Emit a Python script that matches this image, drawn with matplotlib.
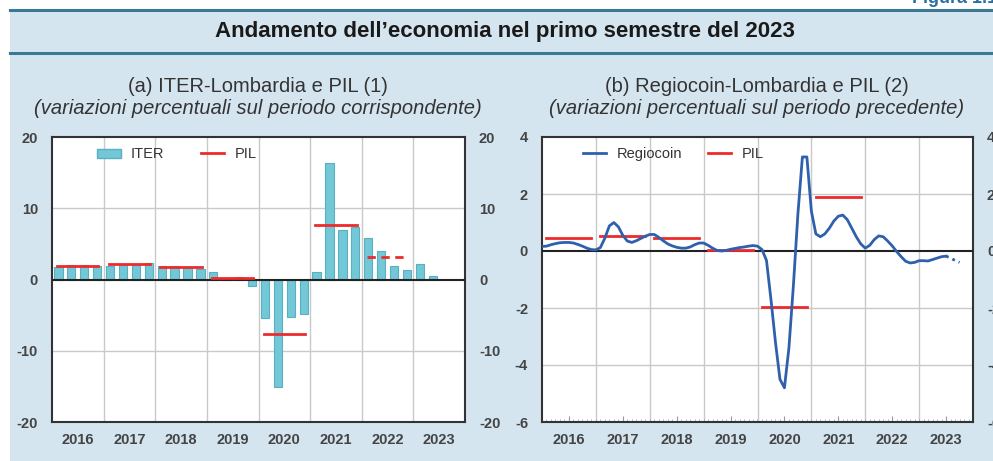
import matplotlib
matplotlib.use("Agg")
import matplotlib.pyplot as plt
from matplotlib.patches import Rectangle, Patch
from matplotlib.lines import Line2D
import numpy as np

plt.rcParams["font.family"] = ["Liberation Sans", "DejaVu Sans"]
plt.rcParams["axes.unicode_minus"] = False

# ---- data ----
years = [2016, 2017, 2018, 2019, 2020, 2021, 2022, 2023]

# ITER-Lombardia, quarterly, 2016Q1 - 2023Q2
iter_vals = [1.8, 2.0, 2.1, 1.9,
             1.9, 2.0, 2.0, 2.3,
             1.9, 1.9, 1.6, 1.5,
             1.1, 0.2, 0.4, -0.9,
             -5.4, -15.1, -5.2, -4.9,
             1.1, 16.3, 7.0, 7.4,
             5.8, 4.0, 1.9, 1.3,
             2.2, 0.5]

# PIL annual (panel a); 2022 is provisional (dashed)
pil_a_years = [2016, 2017, 2018, 2019, 2020, 2021, 2022]
pil_a_vals = [1.9, 2.2, 1.8, 0.2, -7.6, 7.7, 3.2]

# Regiocoin-Lombardia, monthly from Jan 2016
regio_vals = [0.16, 0.17, 0.22, 0.26, 0.29, 0.30, 0.30, 0.28, 0.23, 0.17, 0.10, 0.05,
              0.04, 0.12, 0.45, 0.88, 1.00, 0.85, 0.55, 0.35, 0.30, 0.36, 0.44, 0.52,
              0.58, 0.58, 0.48, 0.36, 0.25, 0.18, 0.13, 0.10, 0.10, 0.14, 0.22, 0.28,
              0.28, 0.20, 0.10, 0.02, 0.00, 0.02, 0.06, 0.09, 0.12, 0.14, 0.17, 0.19,
              0.17, 0.05, -0.33, -1.7, -3.2, -4.5, -4.8, -3.4, -1.2, 1.3, 3.3, 3.3,
              1.4, 0.6, 0.5, 0.6, 0.8, 1.05, 1.22, 1.26, 1.1, 0.8, 0.5, 0.25,
              0.1, 0.2, 0.4, 0.53, 0.5, 0.35, 0.18, -0.02, -0.2, -0.36, -0.42, -0.4,
              -0.34, -0.34, -0.35, -0.3, -0.25, -0.2, -0.18]
# provisional tail (dotted)
regio_tail = [-0.18, -0.25, -0.33, -0.4]

# PIL annual (panel b)
pil_b_years = [2016, 2017, 2018, 2019, 2020, 2021]
pil_b_vals = [0.47, 0.53, 0.44, 0.05, -1.95, 1.88]

# ---- colours ----
bg = "#d4e5f0"
band_line = "#3a7893"
bar_col = "#72c8d7"
bar_edge = "#5ab0c0"
red = "#ee2a2a"
blue = "#2f60ad"
grid_col = "#c9c9c9"
txt = "#333333"

W, H = 993, 461
fig = plt.figure(figsize=(W / 100, H / 100), dpi=100)
fig.patch.set_facecolor(bg)

# white margins top / left
fig.add_artist(Rectangle((0, 1 - 10 / H), 1, 10 / H, transform=fig.transFigure,
                         facecolor="white", edgecolor="none", zorder=0))
fig.add_artist(Rectangle((0, 0), 10 / W, 1, transform=fig.transFigure,
                         facecolor="white", edgecolor="none", zorder=0))
for yy in [10, 53]:
    fig.add_artist(Line2D([10 / W, 1], [1 - yy / H, 1 - yy / H], transform=fig.transFigure,
                          color=band_line, lw=2.2))

fig.text(912 / W, 1 - 3 / H, "Figura 1.1", color="#2b6ea1", fontsize=13,
         fontweight="bold", va="baseline", ha="left")
fig.text(0.508, 1 - 32 / H, "Andamento dell\u2019economia nel primo semestre del 2023",
         ha="center", va="center", fontsize=16, fontweight="bold", color="#1a1a1a")

fig.text(258 / W, 1 - 86 / H, "(a) ITER-Lombardia e PIL (1)", ha="center", va="center",
         fontsize=14.5, color=txt)
fig.text(258 / W, 1 - 108 / H, "(variazioni percentuali sul periodo corrispondente)",
         ha="center", va="center", fontsize=14.5, style="italic", color=txt)
fig.text(757 / W, 1 - 86 / H, "(b) Regiocoin-Lombardia e PIL (2)", ha="center", va="center",
         fontsize=14.5, color=txt)
fig.text(757 / W, 1 - 108 / H, "(variazioni percentuali sul periodo precedente)",
         ha="center", va="center", fontsize=14.5, style="italic", color=txt)

ax1 = fig.add_axes([52 / W, 1 - 422 / H, 413 / W, 285 / H])
ax2 = fig.add_axes([542 / W, 1 - 422 / H, 431 / W, 285 / H])


def style_axes(ax, ylim, yticks):
    ax.set_facecolor("white")
    ax.set_xlim(2016, 2024)
    ax.set_ylim(*ylim)
    ax.set_yticks(yticks)
    for yv in yticks[1:-1]:
        if yv != 0:
            ax.axhline(yv, color=grid_col, lw=1, zorder=0)
    ax.vlines(years[1:], ylim[0], ylim[1], color=grid_col, lw=1, zorder=0)
    ax.axhline(0, color="#222222", lw=1.5, zorder=4)
    for s in ax.spines.values():
        s.set_color("#333333")
        s.set_linewidth(1.5)
    ax.set_xticks([y + 0.5 for y in years])
    ax.set_xticklabels([str(y) for y in years])
    ax.tick_params(axis="y", length=0, labelsize=10.5, labelcolor="#444444",
                   labelleft=True, labelright=True, pad=10)
    ax.tick_params(axis="x", labelsize=10.5, labelcolor="#444444", pad=8)
    for lab in ax.get_xticklabels() + ax.get_yticklabels():
        lab.set_fontweight("bold")


# ---- panel (a) ----
style_axes(ax1, (-20, 20), [-20, -10, 0, 10, 20])
ax1.tick_params(axis="x", length=0)
q_pos = [2016 + i / 4 + 0.125 for i in range(len(iter_vals))]
ax1.bar(q_pos, iter_vals, width=0.16, color=bar_col, edgecolor=bar_edge, lw=0.8, zorder=2)
for yr, v in zip(pil_a_years, pil_a_vals):
    ls = (0, (3, 2)) if yr == 2022 else "-"
    ax1.plot([yr + 0.1, yr + 0.9], [v, v], color=red, lw=2, ls=ls, zorder=5)

h1 = [Patch(facecolor=bar_col, edgecolor=bar_edge), Line2D([], [], color=red, lw=2)]
ax1.legend(h1, ["ITER", "PIL"], loc="upper left", bbox_to_anchor=(0.078, 1.01), ncol=2,
           frameon=False, fontsize=10.5, handlelength=1.6, handleheight=0.6,
           columnspacing=2.5, handletextpad=0.7, labelcolor=txt)

# ---- panel (b) ----
style_axes(ax2, (-6, 4), [-6, -4, -2, 0, 2, 4])
ax2.set_xticks(np.arange(2016, 2024, 1 / 12), minor=True)
ax2.tick_params(axis="x", which="major", direction="in", length=4, color="#999999")
ax2.tick_params(axis="x", which="minor", direction="in", length=2, color="#aaaaaa")
m_pos = [2016 + i / 12 for i in range(len(regio_vals))]
ax2.plot(m_pos, regio_vals, color=blue, lw=2, zorder=6)
tail_pos = [2016 + (len(regio_vals) - 1 + i) / 12 for i in range(len(regio_tail))]
ax2.plot(tail_pos, regio_tail, color=blue, lw=2, ls=(0, (1, 1.5)), zorder=6)
for yr, v in zip(pil_b_years, pil_b_vals):
    ax2.plot([yr + 1 / 12, yr + 11 / 12], [v, v], color=red, lw=2, zorder=5)

h2 = [Line2D([], [], color=blue, lw=2), Line2D([], [], color=red, lw=2)]
ax2.legend(h2, ["Regiocoin", "PIL"], loc="upper left", bbox_to_anchor=(0.064, 1.01), ncol=2,
           frameon=False, fontsize=10.5, handlelength=1.6,
           columnspacing=1.8, handletextpad=0.7, labelcolor=txt)

fig.savefig("out.png", dpi=100, facecolor=fig.get_facecolor())
